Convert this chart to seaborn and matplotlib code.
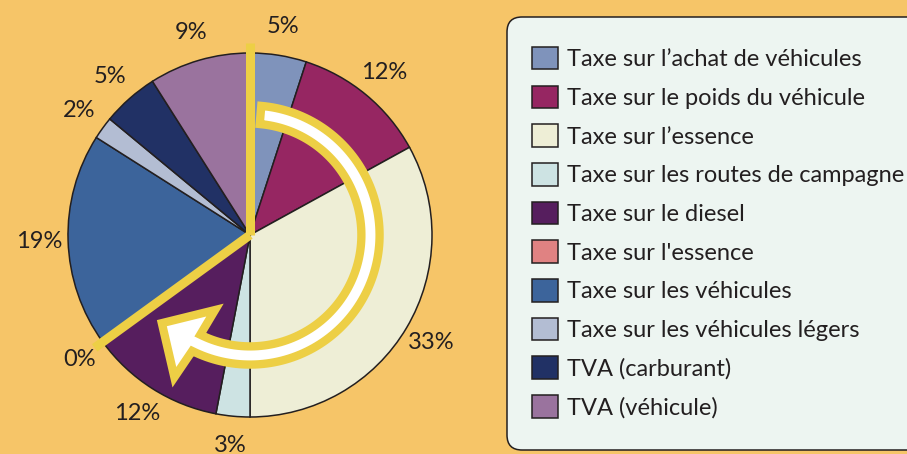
import numpy as np
import matplotlib
matplotlib.use("Agg")
import matplotlib.pyplot as plt
from matplotlib.patches import Polygon, FancyBboxPatch
from matplotlib.transforms import IdentityTransform
import seaborn as sns

# Data (clockwise from 12 o'clock)
categories = [
    "Taxe sur l\u2019achat de véhicules",
    "Taxe sur le poids du véhicule",
    "Taxe sur l\u2019essence",
    "Taxe sur les routes de campagne",
    "Taxe sur le diesel",
    "Taxe sur l'essence",
    "Taxe sur les véhicules",
    "Taxe sur les véhicules légers",
    "TVA (carburant)",
    "TVA (véhicule)",
]
shares = [5, 12, 33, 3, 12, 0, 19, 2, 5, 9]
slice_colors = ["#7f93bb", "#962662", "#eeeed6", "#cde3e3", "#561e5e",
                "#e08282", "#3c649b", "#b3bdd3", "#213165", "#9a739e"]

BG = "#f6c568"
YELLOW = "#edcf45"
INK = "#231f20"
FS = 17

sns.set_theme(style="white")
plt.rcParams["font.family"] = ["Lato", "DejaVu Sans"]

fig = plt.figure(figsize=(9.07, 4.54), dpi=100, facecolor=BG)

# legend box (runs off the right edge like the original)
box = FancyBboxPatch((507, 454 - 450), 430, 433, boxstyle="round,pad=0,rounding_size=15",
                     transform=IdentityTransform(), facecolor="#edf5f1", edgecolor=INK,
                     linewidth=1.1, zorder=-5)
fig.patches.append(box)

# pie centre at (250, 235) px, radius 182 px
R = 182
lim = 1.2
half = lim * R
ax = fig.add_axes([(250 - half) / 907, (454 - 235 - half) / 454, 2 * half / 907, 2 * half / 454])
ax.set_facecolor("none")

wedges, texts, autotexts = ax.pie(
    shares, colors=sns.color_palette(slice_colors), startangle=90, counterclock=False,
    autopct=lambda p: f"{p:.0f}%", pctdistance=1.16,
    wedgeprops=dict(edgecolor=INK, linewidth=1.1),
    textprops=dict(color=INK, fontsize=FS),
)
ax.set_xlim(-lim, lim)
ax.set_ylim(-lim, lim)
ax.set_aspect("equal")
ax.axis("off")

# yellow marker lines: start (12 o'clock) and boundary of the 0% slice
cum = np.cumsum(shares)
start = 90.0
boundary = start - 360 * cum[4] / 100
for ang in (start, boundary):
    t = np.deg2rad(ang)
    ax.plot([0, 1.055 * np.cos(t)], [0, 1.055 * np.sin(t)], color=YELLOW,
            lw=6.5, solid_capstyle="butt", zorder=4)

# curved arrow
r0, hw = 0.662, 0.05
a0, a1 = 85, boundary + 27.5
arc = np.deg2rad(np.linspace(a0, a1, 120))
outer = np.column_stack([(r0 + hw) * np.cos(arc), (r0 + hw) * np.sin(arc)])
inner = np.column_stack([(r0 - hw) * np.cos(arc[::-1]), (r0 - hw) * np.sin(arc[::-1])])

def pol(r, a):
    t = np.deg2rad(a)
    return [r * np.cos(t), r * np.sin(t)]

head = np.array([pol(0.885, boundary + 26), pol(0.685, boundary + 9), pol(0.455, boundary + 29)])
pts = np.vstack([outer, head, inner])
ax.add_patch(Polygon(pts, closed=True, facecolor="white", edgecolor=YELLOW,
                     lw=6.0, joinstyle="miter", zorder=5))

leg = ax.legend(wedges, categories, loc="upper left",
                bbox_to_anchor=(507 / 907, 1 - 22 / 454), bbox_transform=fig.transFigure,
                fontsize=FS, frameon=False, handlelength=1.12, handleheight=1.1,
                handletextpad=0.38, labelspacing=0.65, borderpad=1.05, borderaxespad=0)
for t in leg.get_texts():
    t.set_color(INK)

fig.savefig("out.png", dpi=100, facecolor=BG)
